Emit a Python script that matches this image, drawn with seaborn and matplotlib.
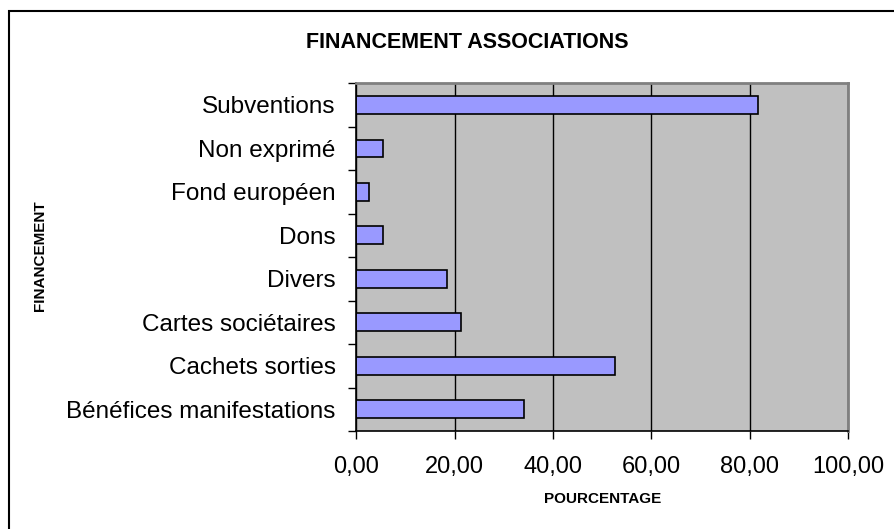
"""Bar chart: financement des associations (pourcentage par source)."""

import matplotlib.pyplot as plt
import pandas as pd
import seaborn as sns
from matplotlib.patches import Rectangle
from matplotlib.ticker import FixedLocator, FuncFormatter, MultipleLocator


SOURCES = [
    "Subventions",
    "Non exprimé",
    "Fond européen",
    "Dons",
    "Divers",
    "Cartes sociétaires",
    "Cachets sorties",
    "Bénéfices manifestations",
]
POURCENTAGES = [81.6, 5.3, 2.5, 5.3, 18.4, 21.2, 52.5, 34.1]

BAR_COLOR = "#9999FF"
PLOT_BG = "#C0C0C0"


def french_decimal(value, _pos):
    return f"{value:.2f}".replace(".", ",")


def main() -> None:
    sns.set_style("white")
    plt.rcParams["font.family"] = ["Liberation Sans", "DejaVu Sans"]
    plt.rcParams["text.color"] = "black"
    plt.rcParams["axes.labelcolor"] = "black"
    plt.rcParams["xtick.color"] = "black"
    plt.rcParams["ytick.color"] = "black"

    data = pd.DataFrame({"source": SOURCES, "pourcentage": POURCENTAGES})

    fig = plt.figure(figsize=(8.95, 5.29), dpi=100)
    ax = fig.add_axes([0.3983, 0.1853, 0.5492, 0.6573])
    ax.set_facecolor(PLOT_BG)

    sns.barplot(
        data=data,
        x="pourcentage",
        y="source",
        order=SOURCES,
        orient="h",
        color=BAR_COLOR,
        saturation=1,
        width=0.41,
        edgecolor="black",
        linewidth=1.2,
        ax=ax,
    )

    ax.set_xlim(0, 100)
    ax.set_ylim(len(SOURCES) - 0.5, -0.5)
    ax.xaxis.set_major_locator(MultipleLocator(20))
    ax.xaxis.set_major_formatter(FuncFormatter(french_decimal))
    ax.grid(axis="x", color="black", linewidth=1)
    ax.set_axisbelow(True)

    # category boundaries carry the tick marks, labels sit in the middle
    ax.yaxis.set_minor_locator(
        FixedLocator([i - 0.5 for i in range(len(SOURCES) + 1)])
    )
    ax.tick_params(axis="y", which="major", length=0, pad=15, labelsize=17.5)
    ax.tick_params(axis="y", which="minor", length=6, width=1, color="black", left=True)
    ax.tick_params(axis="x", which="major", length=6, width=1, color="black",
                   bottom=True, pad=12, labelsize=17)

    for side in ("left", "bottom"):
        ax.spines[side].set_color("black")
        ax.spines[side].set_linewidth(1.2)
    for side in ("top", "right"):
        ax.spines[side].set_color("#808080")
        ax.spines[side].set_linewidth(2)

    ax.set_xlabel("POURCENTAGE", fontsize=11, fontweight="bold", labelpad=10)
    ax.set_ylabel("FINANCEMENT", fontsize=11, fontweight="bold")
    ax.yaxis.set_label_coords(-0.644, 0.503)
    ax.yaxis.label.set_va("center")

    fig.suptitle("FINANCEMENT ASSOCIATIONS", x=0.522, y=0.919, va="center",
                 fontsize=15.5, fontweight="bold")

    # chart area border (only top and left edges fall inside the image)
    fig.add_artist(Rectangle((9 / 895, -0.1), 1.2, 1.1 - 11 / 529,
                             transform=fig.transFigure, fill=False,
                             edgecolor="black", linewidth=1.5))

    fig.savefig("out.png", dpi=100)
    plt.close(fig)


if __name__ == "__main__":
    main()
